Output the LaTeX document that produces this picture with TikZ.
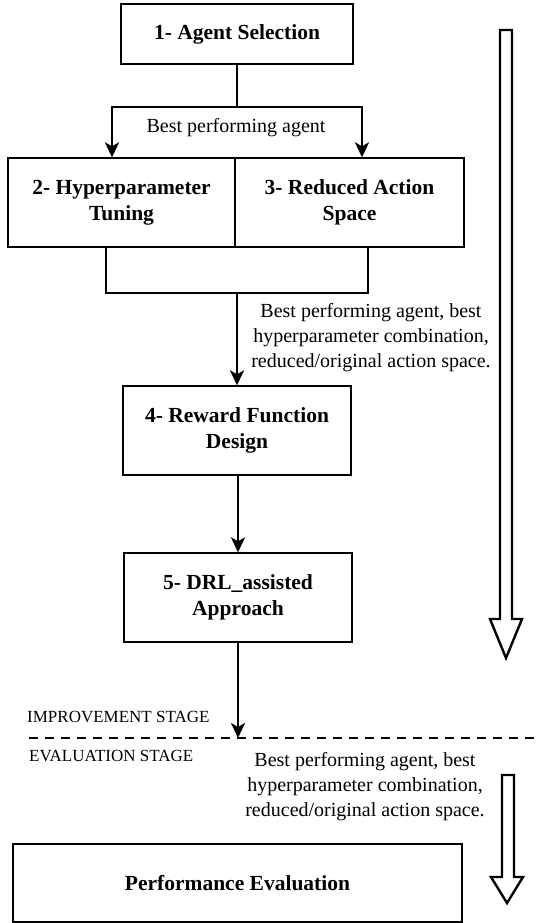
\documentclass[tikz,border=0pt]{standalone}
\usepackage{fontspec}
\setmainfont{Liberation Serif}
\usetikzlibrary{arrows.meta}
\begin{document}
\begin{tikzpicture}[x=1pt,y=-1pt,
  stagebox/.style={draw=black,line width=1.3pt,align=center,inner sep=0pt,
    font=\fontsize{21.5}{26}\selectfont\bfseries},
  conn/.style={line width=2.6pt,-{Stealth[length=15pt,width=14pt,inset=4pt]}},
  plain/.style={line width=2.6pt},
  lbl/.style={align=center,font=\fontsize{20}{25}\selectfont,inner sep=0pt},
  stagelbl/.style={anchor=west,font=\fontsize{17}{20}\selectfont,inner sep=0pt},
  hollow/.style={draw=black,line width=2.4pt,fill=white,line join=miter}]
\useasboundingbox (0,0) rectangle (538,923);
% boxes
\node[stagebox,minimum width=232pt,minimum height=60pt] (b1) at (237,34) {1- Agent Selection};
\node[stagebox,minimum width=227pt,minimum height=89pt] (b2) at (121.5,202.5) {2- Hyperparameter\\Tuning};
\node[stagebox,minimum width=229pt,minimum height=89pt] (b3) at (349.5,202.5) {3- Reduced Action\\Space};
\node[stagebox,minimum width=228pt,minimum height=89pt] (b4) at (237,430.5) {4- Reward Function\\Design};
\node[stagebox,minimum width=228pt,minimum height=89pt] (b5) at (238,597.5) {5- DRL\_assisted\\Approach};
\node[stagebox,minimum width=449pt,minimum height=78pt] (b6) at (237.5,883) {Performance Evaluation};
% fork from box 1
\coordinate (split) at (237,107);
\coordinate (l2) at (112,107);
\coordinate (l3) at (362,107);
\draw[plain] (b1.south) -- (split);
\draw[conn] (split) -- (l2) -- (l2 |- b2.north);
\draw[conn] (split) -- (l3) -- (l3 |- b3.north);
\node[lbl] (t1) at (236,128) {Best performing agent};
% join of box 2 and 3
\coordinate (j2) at (106,247);
\coordinate (j3) at (368,247);
\coordinate (jm) at (237,293);
\draw[plain,line join=miter] (j2) -- (j2 |- jm) -- (j3 |- jm) -- (j3);
\draw[conn] (jm) -- (jm |- b4.north);
\node[lbl] (t2) at (371,338) {Best performing agent, best\\hyperparameter combination,\\reduced/original action space.};
% box 4 to 5
\draw[conn] (b4.south -| b5.north) -- (b5.north);
% box 5 to stage line
\coordinate (stage) at (238,738);
\draw[conn] (b5.south) -- (stage);
% dashed stage separator
\coordinate (dl) at (29,738);
\coordinate (dr) at (538,738);
\draw[line width=2.4pt,dash pattern=on 9pt off 7pt] (dl) -- (dr);
\node[stagelbl] (imp) at (27,717) {IMPROVEMENT STAGE};
\node[stagelbl] (eva) at (29,756) {EVALUATION STAGE};
\node[lbl] (t3) at (365,787) {Best performing agent, best\\hyperparameter combination,\\reduced/original action space.};
% hollow arrows
\draw[hollow] (500,30) -- (512,30) -- (512,619) -- (522,619) -- (506,658) -- (490,619) -- (500,619) -- cycle;
\draw[hollow] (502,775) -- (514,775) -- (514,877) -- (523,877) -- (507,903) -- (491,877) -- (502,877) -- cycle;
\end{tikzpicture}
\end{document}
